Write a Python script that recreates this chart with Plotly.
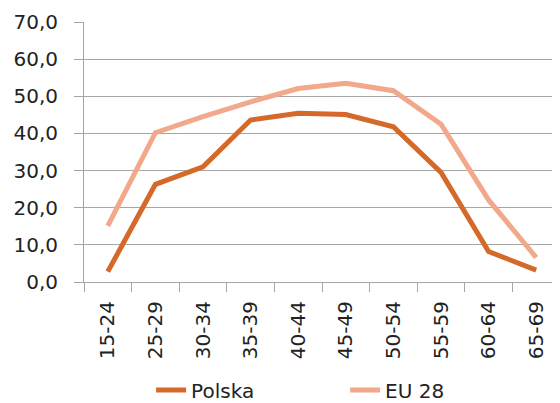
import plotly.graph_objects as go

categories = ["15-24", "25-29", "30-34", "35-39", "40-44", "45-49", "50-54", "55-59", "60-64", "65-69"]
polska = [2.8, 26.3, 31.0, 43.6, 45.4, 45.1, 41.8, 29.5, 8.2, 3.2]
eu28 = [15.1, 40.2, 44.5, 48.5, 52.1, 53.5, 51.5, 42.5, 22.1, 6.6]

FONT = "DejaVu Sans"
GRID = "#a6a6a6"

fig = go.Figure()
fig.add_trace(go.Scatter(x=categories, y=polska, name="Polska", mode="lines",
                         line=dict(color="#d4692a", width=5)))
fig.add_trace(go.Scatter(x=categories, y=eu28, name="EU 28", mode="lines",
                         line=dict(color="#f2a88a", width=5)))

fig.update_layout(
    width=552, height=395,
    margin=dict(l=76, r=0, t=14, b=121, autoexpand=False),
    paper_bgcolor="white", plot_bgcolor="white",
    separators=", ",
    font=dict(family=FONT, size=20, color="#222222"),
    showlegend=True,
    legend=dict(orientation="h", x=0.141, xanchor="left", y=-0.415, yanchor="middle",
                font=dict(family=FONT, size=20), entrywidth=149, entrywidthmode="pixels",
                tracegroupgap=0, borderwidth=0),
)
fig.update_xaxes(type="category", showgrid=False, showline=True, linecolor=GRID, linewidth=1,
                 ticks="outside", tickson="boundaries", ticklen=9, tickcolor=GRID,
                 tickangle=-90, ticklabelstandoff=10, range=[-0.5, 9.5], automargin=False)
fig.update_yaxes(range=[0, 70], dtick=10, tickformat=".1f", showgrid=True, gridcolor=GRID,
                 gridwidth=1, showline=True, linecolor=GRID, ticks="outside", ticklen=9,
                 tickcolor=GRID, ticklabelstandoff=12, zeroline=False, automargin=False)

fig.write_html("out.html")
